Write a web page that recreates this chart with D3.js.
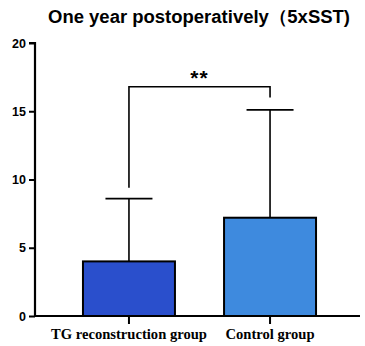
<!DOCTYPE html>
<html>
<head>
<meta charset="utf-8">
<script src="https://cdn.jsdelivr.net/npm/d3@7.9.0/dist/d3.min.js"></script>
<style>
  body { margin: 0; background: #fff; }
  svg { display: block; }
</style>
</head>
<body>
<svg id="chart" width="365" height="346"></svg>
<script>
const groups = ['TG reconstruction group', 'Control group'];
const means = [4.0, 7.2];
const sdUpper = [8.6, 15.1];
const yTicks = [0, 5, 10, 15, 20];
const colors = ['#2a4fcc', '#3e8ade'];
const title = 'One year postoperatively（5xSST)';

const svg = d3.select('#chart');
const axisX = 35;

const y = d3.scaleLinear().domain([0, 20]).range([316, 43]);
const x = d3.scaleBand().domain(groups).range([axisX, 364]).paddingInner(0.348).paddingOuter(0.34);

// title
svg.append('text')
  .attr('x', 199).attr('y', 23)
  .attr('text-anchor', 'middle')
  .attr('font-family', 'Liberation Sans, Arial, sans-serif')
  .attr('font-weight', 'bold')
  .attr('font-size', 18)
  .attr('textLength', 302)
  .attr('lengthAdjust', 'spacingAndGlyphs')
  .text(title);

// bars
svg.selectAll('rect.bar')
  .data(groups)
  .join('rect')
  .attr('class', 'bar')
  .attr('x', d => x(d))
  .attr('y', (d, i) => y(means[i]))
  .attr('width', x.bandwidth())
  .attr('height', (d, i) => y(0) - y(means[i]))
  .attr('fill', (d, i) => colors[i])
  .attr('stroke', '#000')
  .attr('stroke-width', 2);

// error bars (upper only)
const capW = 47;
groups.forEach((g, i) => {
  const cx = x(g) + x.bandwidth() / 2;
  svg.append('line')
    .attr('x1', cx).attr('x2', cx)
    .attr('y1', y(means[i])).attr('y2', y(sdUpper[i]))
    .attr('stroke', '#000').attr('stroke-width', 1.6);
  svg.append('line')
    .attr('x1', cx - capW / 2).attr('x2', cx + capW / 2)
    .attr('y1', y(sdUpper[i])).attr('y2', y(sdUpper[i]))
    .attr('stroke', '#000').attr('stroke-width', 1.6);
});

// significance bracket
const c1 = x(groups[0]) + x.bandwidth() / 2;
const c2 = x(groups[1]) + x.bandwidth() / 2;
const brY = y(16.8);
svg.append('path')
  .attr('d', `M${c1},${y(9.4)}V${brY}H${c2}V${y(16.0)}`)
  .attr('fill', 'none').attr('stroke', '#000').attr('stroke-width', 1.6);
svg.append('text')
  .attr('x', (c1 + c2) / 2).attr('y', brY - 2)
  .attr('text-anchor', 'middle')
  .attr('font-family', 'Liberation Sans, Arial, sans-serif')
  .attr('font-weight', 'bold')
  .attr('font-size', 21)
  .attr('letter-spacing', 1)
  .text('**');

// y axis
const yAxis = d3.axisLeft(y).tickValues(yTicks).tickSize(6).tickPadding(3);
const gy = svg.append('g').attr('transform', `translate(${axisX},0)`).call(yAxis);
gy.select('.domain').attr('stroke-width', 2.2).attr('d', `M-6,${y(20)}H0V${y(0)}`);
gy.selectAll('.tick line').attr('stroke-width', 2);
gy.selectAll('.tick text')
  .attr('font-family', 'Liberation Sans, Arial, sans-serif')
  .attr('font-weight', 'bold')
  .attr('font-size', 12.5)
  .attr('fill', '#000');

// x axis
const xAxis = d3.axisBottom(x).tickSize(8).tickPadding(5).tickSizeOuter(0);
const gx = svg.append('g').attr('transform', `translate(0,${y(0)})`).call(xAxis);
gx.select('.domain').attr('stroke-width', 2.2).attr('d', `M${axisX - 1},0H360`);
gx.selectAll('.tick line').attr('stroke-width', 2);
gx.selectAll('.tick text')
  .attr('font-family', 'Liberation Serif, Times New Roman, serif')
  .attr('font-weight', 'bold')
  .attr('font-size', 14.6)
  .attr('fill', '#000');
</script>
</body>
</html>
